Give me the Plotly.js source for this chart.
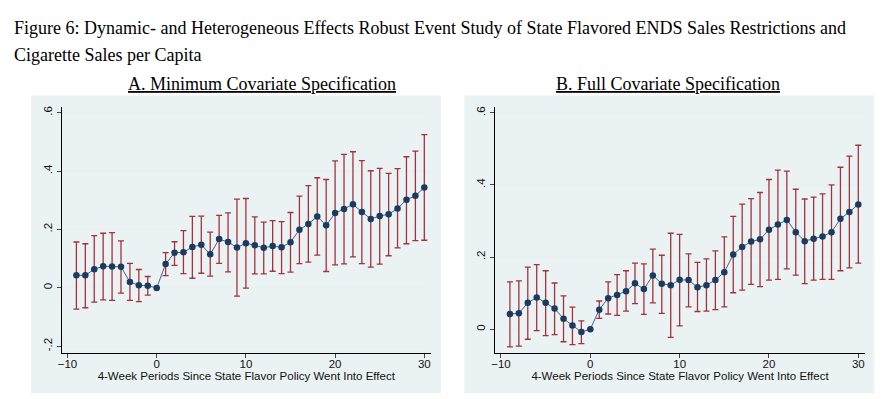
<!DOCTYPE html>
<html>
<head>
<meta charset="utf-8">
<script src="https://cdn.plot.ly/plotly-3.0.1.min.js"></script>
<style>html,body{margin:0;padding:0;background:#fff;}#chart{width:882px;height:399px;}</style>
</head>
<body>
<div id="chart"></div>
<script>
const periods = [-9,-8,-7,-6,-5,-4,-3,-2,-1,0,1,2,3,4,5,6,7,8,9,10,11,12,13,14,15,16,17,18,19,20,21,22,23,24,25,26,27,28,29,30];

// Panel A: Minimum covariate specification
const estA = [0.043,0.043,0.064,0.074,0.073,0.072,0.020,0.009,0.007,0.000,0.082,0.120,0.122,0.140,0.148,0.115,0.167,0.157,0.138,0.153,0.146,0.137,0.143,0.139,0.156,0.199,0.219,0.244,0.214,0.256,0.270,0.286,0.260,0.236,0.246,0.252,0.272,0.302,0.315,0.344];
const hiA  = [0.157,0.151,0.179,0.187,0.189,0.161,0.084,0.063,0.039,0.000,0.121,0.158,0.196,0.245,0.246,0.191,0.248,0.257,0.304,0.306,0.243,0.225,0.230,0.227,0.258,0.314,0.350,0.377,0.371,0.435,0.457,0.466,0.436,0.401,0.409,0.392,0.408,0.449,0.468,0.525];
const loA  = [-0.073,-0.068,-0.049,-0.041,-0.043,-0.018,-0.043,-0.047,-0.025,0.000,0.042,0.077,0.049,0.033,0.050,0.040,0.084,0.055,-0.028,-0.001,0.048,0.048,0.057,0.049,0.054,0.083,0.088,0.112,0.056,0.079,0.082,0.106,0.083,0.071,0.081,0.110,0.137,0.151,0.162,0.163];

// Panel B: Full covariate specification
const estB = [0.042,0.044,0.073,0.088,0.073,0.057,0.029,0.010,-0.008,0.000,0.054,0.086,0.095,0.105,0.127,0.111,0.149,0.126,0.122,0.137,0.136,0.116,0.122,0.136,0.158,0.207,0.228,0.243,0.249,0.276,0.290,0.303,0.269,0.244,0.251,0.257,0.269,0.306,0.325,0.346];
const hiB  = [0.131,0.134,0.172,0.179,0.162,0.128,0.092,0.061,0.023,0.000,0.078,0.131,0.151,0.162,0.183,0.181,0.222,0.205,0.266,0.263,0.209,0.185,0.195,0.217,0.256,0.313,0.347,0.362,0.379,0.415,0.441,0.438,0.388,0.361,0.366,0.375,0.400,0.449,0.480,0.510];
const loB  = [-0.049,-0.047,-0.028,-0.004,-0.018,-0.015,-0.035,-0.043,-0.040,0.000,0.030,0.042,0.038,0.050,0.071,0.041,0.073,0.044,-0.023,0.009,0.062,0.049,0.050,0.054,0.062,0.101,0.108,0.124,0.118,0.136,0.138,0.167,0.150,0.126,0.136,0.138,0.138,0.162,0.170,0.183];

const xTicks = [-10,0,10,20,30];
const yTicksA = [-0.2,0,0.2,0.4,0.6];
const yTickTextA = ['-.2','0','.2','.4','.6'];
const yTicksB = [0,0.2,0.4,0.6];
const yTickTextB = ['0','.2','.4','.6'];

const figTitle1 = 'Figure 6: Dynamic- and Heterogeneous Effects Robust Event Study of State Flavored ENDS Sales Restrictions and';
const figTitle2 = 'Cigarette Sales per Capita';
const panelTitleA = 'A. Minimum Covariate Specification';
const panelTitleB = 'B. Full Covariate Specification';
const xTitle = '4-Week Periods Since State Flavor Policy Went Into Effect';

const W = 882, H = 399;
const px = v => v / W;
const py = v => 1 - v / H;

const markerColor = '#1c3a60';
const lineColor = '#41638c';
const ciColor = '#a3323a';

function trace(est, lo, hi, xa, ya) {
  return {
    x: periods, y: est, xaxis: xa, yaxis: ya,
    type: 'scatter', mode: 'lines+markers',
    line: {color: lineColor, width: 1},
    marker: {color: markerColor, size: 6.5},
    error_y: {
      type: 'data', symmetric: false,
      array: hi.map((h, i) => h - est[i]),
      arrayminus: lo.map((l, i) => est[i] - l),
      color: ciColor, thickness: 1.3, width: 3
    },
    hoverinfo: 'x+y', showlegend: false
  };
}

const tickFont = {family: 'Liberation Sans, Arial, sans-serif', size: 11.5, color: '#111'};
const serif = {family: 'Liberation Serif, Times New Roman, serif', size: 18, color: '#000'};

function xaxis(domain, anchor) {
  return {
    domain: domain, anchor: anchor,
    range: [-10.67, 30.75],
    tickmode: 'array', tickvals: xTicks,
    ticks: 'outside', ticklen: 4, tickcolor: '#444', tickwidth: 1,
    ticklabelstandoff: -4,
    showline: true, linecolor: '#000', linewidth: 1,
    showgrid: false, zeroline: false,
    tickfont: tickFont,
    title: {text: xTitle, font: tickFont, standoff: 0},
    automargin: false
  };
}
function yaxis(domain, anchor, range, vals, text) {
  return {
    domain: domain, anchor: anchor, range: range,
    tickmode: 'array', tickvals: vals, ticktext: text,
    tickangle: -90,
    ticks: 'outside', ticklen: 4, tickcolor: '#444', tickwidth: 1,
    showline: true, linecolor: '#000', linewidth: 1,
    showgrid: true, gridcolor: '#e8f0f1', gridwidth: 1.2,
    zeroline: false, tickfont: tickFont, automargin: false
  };
}

const yDom = [py(353.3), py(106.5)];

const layout = {
  width: W, height: H,
  margin: {l: 0, r: 0, t: 0, b: 0},
  paper_bgcolor: '#ffffff', plot_bgcolor: '#ffffff',
  font: {family: 'Liberation Sans, Arial, sans-serif'},
  xaxis: xaxis([px(61.5), px(431)], 'y'),
  yaxis: yaxis(yDom, 'x', [-0.224, 0.621], yTicksA, yTickTextA),
  xaxis2: xaxis([px(495), px(865)], 'y2'),
  yaxis2: yaxis(yDom, 'x2', [-0.067, 0.6175], yTicksB, yTickTextB),
  shapes: [
    {type: 'rect', xref: 'paper', yref: 'paper', x0: px(31), x1: px(441), y0: py(393.3), y1: py(95.5),
     fillcolor: '#eaf2f3', line: {width: 0}, layer: 'below'},
    {type: 'rect', xref: 'paper', yref: 'paper', x0: px(464.3), x1: px(874.3), y0: py(393.3), y1: py(95.5),
     fillcolor: '#eaf2f3', line: {width: 0}, layer: 'below'}
  ],
  annotations: [
    {text: figTitle1, xref: 'paper', yref: 'paper', x: px(12), y: py(28), xanchor: 'left', yanchor: 'middle',
     showarrow: false, font: serif},
    {text: figTitle2, xref: 'paper', yref: 'paper', x: px(12), y: py(55), xanchor: 'left', yanchor: 'middle',
     showarrow: false, font: serif},
    {text: '<u>' + panelTitleA + '</u>', xref: 'paper', yref: 'paper', x: px(261.5), y: py(84), xanchor: 'center', yanchor: 'middle',
     showarrow: false, font: serif},
    {text: '<u>' + panelTitleB + '</u>', xref: 'paper', yref: 'paper', x: px(668), y: py(84), xanchor: 'center', yanchor: 'middle',
     showarrow: false, font: serif}
  ]
};

Plotly.newPlot('chart', [trace(estA, loA, hiA, 'x', 'y'), trace(estB, loB, hiB, 'x2', 'y2')], layout, {staticPlot: true, displayModeBar: false});
</script>
</body>
</html>
